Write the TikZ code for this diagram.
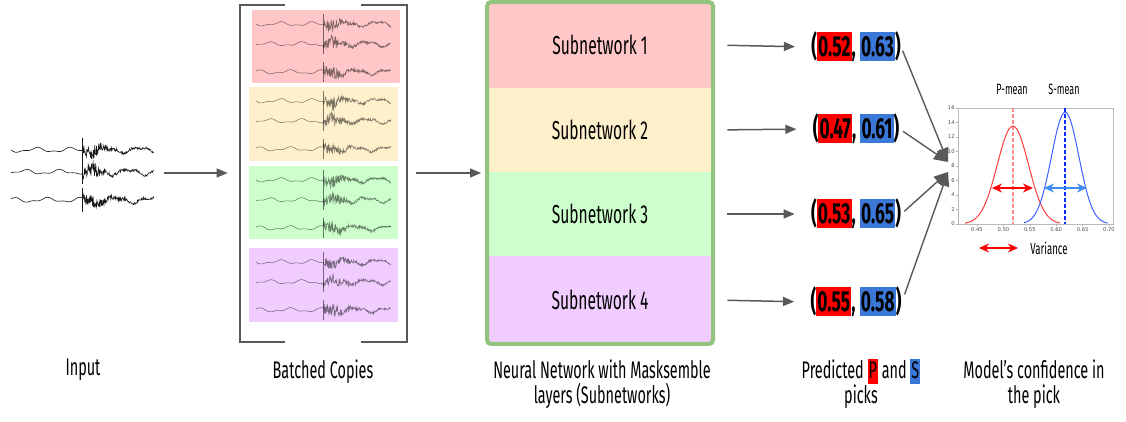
\documentclass[tikz,border=0pt]{standalone}
\usepackage{fontspec}
\setmainfont{Fira Sans}[FakeStretch=0.6]
\newfontfamily\plotfont{DejaVu Sans}
\usetikzlibrary{arrows.meta}
\definecolor{bandred}{HTML}{FFC7C7}
\definecolor{bandyel}{HTML}{FFF0CC}
\definecolor{bandgrn}{HTML}{CCFFCC}
\definecolor{bandpur}{HTML}{F0CCFF}
\definecolor{netgreen}{HTML}{93C47D}
\definecolor{arrowgray}{HTML}{595959}
\definecolor{pickred}{HTML}{FF0000}
\definecolor{pickblue}{HTML}{3C78D8}
\definecolor{curvered}{HTML}{FF3B3B}
\definecolor{curveblue}{HTML}{3F5FFF}
\definecolor{arrblue}{HTML}{3D8BF0}
\definecolor{dashblue}{HTML}{0A2AFF}
\newcommand{\pbox}[2]{{\setlength{\fboxsep}{0.6pt}\colorbox{#1}{\rule[-1.6pt]{0pt}{13.2pt}#2}}}
\newcommand{\lbox}[2]{{\setlength{\fboxsep}{0.5pt}\colorbox{#1}{\rule[-2.2pt]{0pt}{11.2pt}#2}}}
% seismic trace: x0, y0, length, amplitude, phase, style
\newcommand{\seis}[6]{%
  \draw[#6] plot[domain=0:1,samples=340] ({#1+#3*\x},{#2+#4*((1.7*sin(\x*1500+#5)+0.8*sin(\x*3300+2*#5))*(1+0.3*(\x>0.5)) + ((\x>0.5)*(4.2*exp(-6*(\x-0.5))+3.2*exp(-min(((\x-0.58)*22)^2,9))+0.7))*rand)});
  \draw[#6] ({#1+0.5*#3},{#2-11*#4}) -- ({#1+0.5*#3},{#2+11*#4});
}
\tikzset{
  garrow/.style={draw=arrowgray, line width=0.75pt, -{Triangle[length=5.5pt,width=4.5pt]}},
  carrow/.style={draw=arrowgray, line width=0.7pt, -{Triangle[length=7pt,width=6pt]}},
  band/.style={draw=none, minimum width=113pt, inner sep=0pt, font=\fontsize{13}{15}\selectfont},
  lbl/.style={font=\fontsize{12}{12.5}\selectfont, align=center, anchor=north, inner sep=0pt},
  pred/.style={font=\fontsize{14.5}{16}\selectfont\bfseries, inner sep=0pt},
  trace/.style={black!90, line width=0.3pt},
  ptrace/.style={black, opacity=0.5, line width=0.28pt},
  brk/.style={draw=arrowgray, line width=1pt},
  ghost/.style={draw=none, inner sep=0pt},
  varrow/.style={line width=0.8pt, {Stealth[length=5pt,width=4.5pt]}-{Stealth[length=5pt,width=4.5pt]}},
  tick/.style={font=\plotfont\fontsize{2.6}{3}\selectfont, inner sep=0.5pt, text=black!70},
  plotlbl/.style={font=\fontsize{7.5}{9}\selectfont, inner sep=0pt},
}
\begin{document}
\begin{tikzpicture}[x=0.5pt,y=-0.5pt]
\useasboundingbox (0,0) rectangle (1126,422);
\pgfmathsetseed{7}
% ---------- Input ----------
\node[ghost, minimum width=81pt, minimum height=40pt] (inp) at (83,173) {};
\seis{11}{150}{143}{1.1}{0}{trace}
\seis{11}{172}{143}{1.1}{120}{trace}
\seis{11}{200}{143}{1.1}{250}{trace}
% ---------- Batched copies ----------
\node[ghost, minimum width=94pt, minimum height=168pt] (batch) at (322,173) {};
\fill[bandred] (252,10) rectangle (400,83);
\fill[bandyel] (249,87) rectangle (398,161);
\fill[bandgrn] (249,166) rectangle (398,239);
\fill[bandpur] (249,248) rectangle (398,322);
\foreach \t in {10,87,166,248}{
  \seis{256}{\t+14}{135}{0.95}{0}{ptrace}
  \seis{256}{\t+34}{135}{0.95}{120}{ptrace}
  \seis{256}{\t+62}{135}{0.95}{250}{ptrace}
}
\draw[brk] (285,5) -- (240,5) -- (240,342) -- (285,342);
\draw[brk] (361,5) -- (407,5) -- (407,342) -- (361,342);
% ---------- Network ----------
\node[band, fill=bandred, minimum height=43pt] (sub1) at (600,45) {Subnetwork 1};
\node[band, fill=bandyel, minimum height=42pt] (sub2) at (600,130) {Subnetwork 2};
\node[band, fill=bandgrn, minimum height=42pt] (sub3) at (600,214) {Subnetwork 3};
\node[band, fill=bandpur, minimum height=44pt] (sub4) at (600,300) {Subnetwork 4};
\node[draw=netgreen, line width=2pt, rounded corners=2pt, minimum width=113pt, minimum height=171pt, inner sep=0pt] (net) at (600,173) {};
% ---------- Predictions ----------
\node[pred] (p1) at (856,47) {(\pbox{pickred}{0.52}, \pbox{pickblue}{0.63})};
\node[pred] (p2) at (856,129) {(\pbox{pickred}{0.47}, \pbox{pickblue}{0.61})};
\node[pred] (p3) at (856,214) {(\pbox{pickred}{0.53}, \pbox{pickblue}{0.65})};
\node[pred] (p4) at (856,302) {(\pbox{pickred}{0.55}, \pbox{pickblue}{0.58})};
\coordinate (tipA) at (948,162);
\coordinate (tipB) at (948,172);
% ---------- Arrows ----------
\draw[garrow] (inp.east) -- (batch.west);
\draw[garrow, shorten >=2pt] (batch.east) -- (net.west);
\foreach \i in {1,2,3,4}{
  \draw[garrow, shorten <=7pt, shorten >=8pt] (sub\i.east) -- (p\i.west);
}
\draw[carrow, shorten <=2pt] (p1.east) -- (tipA);
\draw[carrow, shorten <=2pt] (p2.east) -- (tipA);
\draw[carrow, shorten <=2pt] (p3.east) -- (tipB);
\draw[carrow, shorten <=4pt] (p4.east) -- (tipB);
% ---------- Plot ----------
\draw[gray!55, line width=0.3pt] (958,108) rectangle (1113,224);
\foreach \v in {0,2,...,16}{
  \draw[gray!60, line width=0.3pt] (958,{224-7.25*\v}) -- (956,{224-7.25*\v});
  \node[tick, anchor=east] (yt\v) at (956,{224-7.25*\v}) {\v};
}
\foreach \v/\l [count=\k] in {0.45/0.45,0.50/0.50,0.55/0.55,0.60/0.60,0.65/0.65,0.70/0.70}{
  \draw[gray!60, line width=0.3pt] ({977+(\v-0.45)*528},224) -- ({977+(\v-0.45)*528},226);
  \node[tick, anchor=north] (xt\k) at ({977+(\v-0.45)*528},226) {\l};
}
\draw[red!45, line width=1pt, dash pattern=on 2pt off 1pt] (1013,108) -- (1013,224);
\draw[dashblue, line width=0.65pt, dash pattern=on 2pt off 1pt] (1065,108) -- (1065,224);
\draw[curvered, line width=0.5pt] plot[domain=-3.08:3.01, samples=80] ({977+(0.068+0.02955*\x)*528},{224-97.9*exp(-\x*\x/2)});
\draw[curveblue, line width=0.5pt] plot[domain=-3.0:3.1, samples=80] ({977+(0.167+0.02591*\x)*528},{224-111.65*exp(-\x*\x/2)});
\draw[varrow, pickred] (992,188) -- (1033,188);
\draw[varrow, arrblue] (1044,188) -- (1087,188);
\node[plotlbl] (pmean) at (1012,89) {P-mean};
\node[plotlbl] (smean) at (1064,89) {S-mean};
\draw[varrow, pickred] (979,248) -- (1018,248);
\node[plotlbl, font=\fontsize{8}{9}\selectfont] (var) at (1049,248) {Variance};
% ---------- Bottom labels ----------
\node[lbl] (linp) at (83,359) {Input};
\node[lbl] (lbat) at (323,359) {Batched Copies};
\node[lbl] (lnet) at (602,359) {Neural Network with Masksemble\\layers (Subnetworks)};
\node[lbl] (lpred) at (861,359) {Predicted \lbox{pickred}{P} and \lbox{pickblue}{S}\\picks};
\node[lbl] (lconf) at (1034,359) {Model’s confidence in\\the pick};
\end{tikzpicture}
\end{document}
